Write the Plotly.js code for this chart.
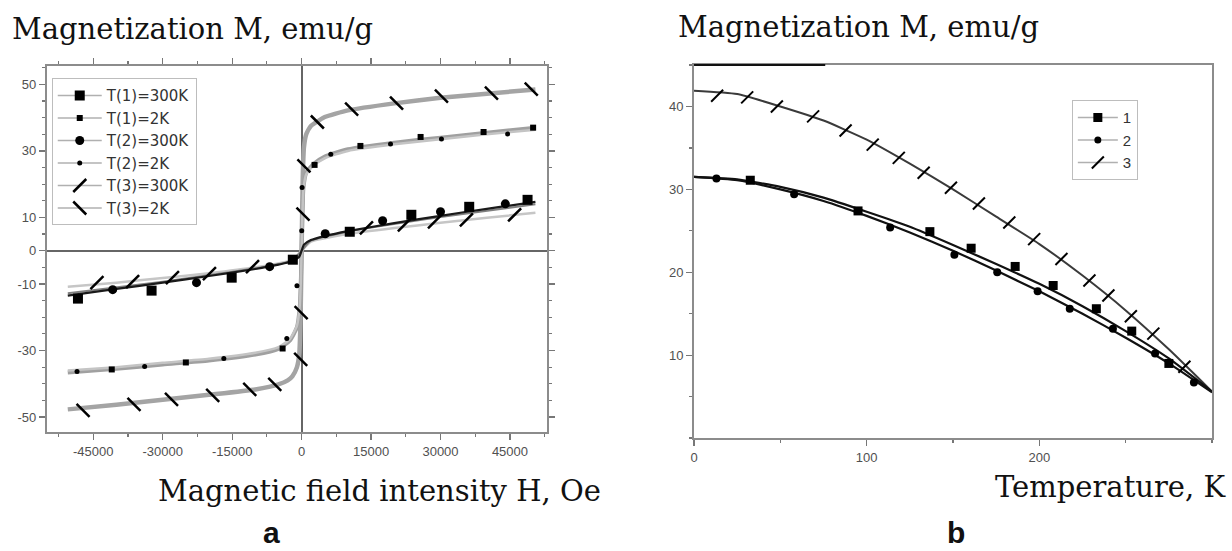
<!DOCTYPE html>
<html>
<head>
<meta charset="utf-8">
<script src="https://cdn.plot.ly/plotly-3.0.1.min.js"></script>
<style>
html,body{margin:0;padding:0;background:#fff;}
#chart{width:1232px;height:551px;}
</style>
</head>
<body>
<div id="chart"></div>
<script>
// ---------- Panel a : M(H) ----------
// fitted curves
const H_T1_300K_line = [-50500,-40000,-30000,-20000,-10000,-5000,-2000,-500,0,500,2000,5000,10000,20000,30000,40000,50500];
const M_T1_300K_line = [-13.5,-11.5,-9.6,-7.6,-5.5,-4.2,-3.2,-1.8,0,1.8,3.2,4.4,5.9,8.3,10.5,12.6,14.7];
const H_T2_300K_line = [-50500,-30000,-10000,-2000,0,2000,10000,30000,50500];
const M_T2_300K_line = [-12.8,-9.3,-5.3,-3.0,0,3.0,5.7,10.1,14.0];
const H_T3_300K_line = [-50500,-40000,-30000,-20000,-10000,-2000,0,2000,10000,20000,30000,40000,50500];
const M_T3_300K_line = [-10.8,-9.6,-8.2,-6.8,-5.0,-2.8,0,2.7,5.0,6.8,8.4,9.9,11.4];
const H_T1_2K_line = [-50500,-40000,-30000,-20000,-10000,-5000,-2500,-1000,-400,-150,0,150,400,1000,2500,5000,10000,20000,30000,40000,50500];
const M_T1_2K_line = [-36.6,-35.5,-34.2,-33.0,-31.2,-29.5,-27.0,-23.0,-17.0,-9.0,0,10.0,19.0,23.5,26.0,28.3,30.5,32.5,34.0,35.5,37.0];
const H_T2_2K_line = H_T1_2K_line;
const M_T2_2K_line = [-36.0,-35.0,-33.7,-32.5,-30.7,-29.0,-26.5,-22.5,-16.5,-8.5,0,9.5,18.5,23.0,25.5,27.8,30.0,32.0,33.5,35.0,36.4];
const H_T3_2K_line = [-50500,-40000,-30000,-20000,-10000,-5000,-3000,-2000,-1000,-500,-250,0,250,500,1000,2000,3000,5000,10000,20000,30000,40000,50500];
const M_T3_2K_line = [-47.7,-46.3,-44.8,-43.3,-41.7,-40.2,-39.0,-37.8,-35.0,-31.0,-22.0,0,22.0,31.0,35.0,37.5,38.5,40.2,42.2,44.3,46.0,47.2,48.5];

// measured points (markers)
const H_T1_300K = [-48300,-32400,-15100,-1900,10400,23700,36200,48800];
const M_T1_300K = [-14.4,-12.0,-8.1,-2.7,5.7,10.8,13.2,15.3];
const H_T1_2K = [-41000,-25000,-4100,2800,12700,25700,39300,50000];
const M_T1_2K = [-35.7,-33.6,-29.4,25.8,31.5,34.2,35.7,37.0];
const H_T2_300K = [-40800,-22700,-6900,5100,17500,30000,44000];
const M_T2_300K = [-11.7,-9.6,-4.8,5.1,9.0,11.7,14.1];
const H_T2_2K = [-48500,-33900,-16800,-3200,-1000,20,100,6300,19200,30200,44500];
const M_T2_2K = [-36.3,-34.8,-32.4,-26.4,-10.5,6.0,19.0,29.0,32.1,33.6,35.1];
const H_T3_300K = [-44200,-36500,-27900,-19900,-10600,14000,22200,28700,35600,46000];
const M_T3_300K = [-9.6,-9.3,-8.1,-6.9,-4.8,6.9,7.8,8.7,9.3,10.8];
const H_T3_2K = [-47200,-36200,-28100,-19200,-11200,-5800,-200,-100,300,500,3400,10800,20500,30200,41000,49600];
const M_T3_2K = [-48.0,-46.2,-44.7,-43.5,-41.7,-40.2,-32.7,-18.6,11.0,25.5,38.7,42.6,44.4,46.5,47.4,48.6];

const legendA = ["T(1)=300K","T(1)=2K","T(2)=300K","T(2)=2K","T(3)=300K","T(3)=2K"];
const xTicksA = [-45000,-30000,-15000,0,15000,30000,45000];
const yTicksA = [-50,-30,-10,0,10,30,50];

// ---------- Panel b : M(T) ----------
const T_line = [0,25,50,75,100,125,150,175,200,225,250,275,300];
const M1_line = [31.5,31.2,30.3,29.0,27.3,25.5,23.3,21.0,18.6,15.9,12.9,9.6,5.6];
const M2_line = [31.5,31.1,30.0,28.6,26.8,24.8,22.6,20.2,17.7,15.0,12.1,9.0,5.5];
const M3_line = [41.9,41.5,40.0,38.3,36.0,33.1,30.0,26.7,23.4,19.6,15.4,10.7,5.6];
const T1 = [32.6,95,136.6,160.5,186,208,233,253.5,275];
const M1 = [31.1,27.4,24.9,22.9,20.7,18.4,15.6,12.9,9.0];
const T2 = [13,58,113.6,150.8,175.6,199,217.6,242.6,267,289.5];
const M2 = [31.3,29.4,25.4,22.1,20.0,17.7,15.6,13.2,10.2,6.7];
const T3 = [13.4,30.8,48,69,87.8,103.5,118.6,133,148.8,165,182.6,197,212.8,229,240,253,266,284];
const M3 = [41.3,41.1,40.0,38.8,37.1,35.4,33.8,32.0,30.2,28.3,26.0,24.0,21.6,19.0,17.2,14.7,12.6,8.6];
const legendB = ["1","2","3"];
const xTicksB = [0,100,200];
const yTicksB = [10,20,30,40];

// ---------- styles ----------
const MK = {
  sqBig:{symbol:'square',size:10,color:'#000'},
  sqSmall:{symbol:'square',size:6,color:'#000'},
  cirBig:{symbol:'circle',size:9,color:'#000'},
  cirSmall:{symbol:'circle',size:5,color:'#000'},
  slash:{symbol:'line-ne',size:13,color:'#000',line:{width:2.5,color:'#000'}},
  bslash:{symbol:'line-nw',size:13,color:'#000',line:{width:2.5,color:'#000'}}
};
const traces = [];
function line(x,y,color,width,xa,ya){
  traces.push({x:x,y:y,mode:'lines',xaxis:xa,yaxis:ya,showlegend:false,hoverinfo:'skip',
    line:{color:color,width:width,shape:'spline',smoothing:0.5}});
}
function pts(x,y,marker,xa,ya){
  traces.push({x:x,y:y,mode:'markers',xaxis:xa,yaxis:ya,showlegend:false,marker:marker});
}
function leg(name,marker,lg){
  traces.push({x:[null],y:[null],mode:'lines+markers',name:name,legend:lg,
    xaxis:lg==='legend'?'x':'x2',yaxis:lg==='legend'?'y':'y2',
    line:{color:'#b0b0b0',width:1.5},marker:marker});
}

// panel a lines
line(H_T3_2K_line,M_T3_2K_line,'#a4a4a4',4.5,'x','y');
line(H_T1_2K_line,M_T1_2K_line,'#a0a0a0',4,'x','y');
line(H_T2_2K_line,M_T2_2K_line,'#c4c4c4',2.5,'x','y');
line(H_T3_300K_line,M_T3_300K_line,'#c6c6c6',2.5,'x','y');
line(H_T2_300K_line,M_T2_300K_line,'#808080',2,'x','y');
line(H_T1_300K_line,M_T1_300K_line,'#1a1a1a',2.2,'x','y');
// panel a markers
pts(H_T1_300K,M_T1_300K,MK.sqBig,'x','y');
pts(H_T1_2K,M_T1_2K,MK.sqSmall,'x','y');
pts(H_T2_300K,M_T2_300K,MK.cirBig,'x','y');
pts(H_T2_2K,M_T2_2K,MK.cirSmall,'x','y');
pts(H_T3_300K,M_T3_300K,MK.slash,'x','y');
pts(H_T3_2K,M_T3_2K,MK.bslash,'x','y');
// panel a legend
leg(legendA[0],MK.sqBig,'legend');
leg(legendA[1],MK.sqSmall,'legend');
leg(legendA[2],MK.cirBig,'legend');
leg(legendA[3],MK.cirSmall,'legend');
leg(legendA[4],MK.slash,'legend');
leg(legendA[5],MK.bslash,'legend');

// panel b
line(T_line,M3_line,'#3a3a3a',2,'x2','y2');
line(T_line,M1_line,'#111',2.2,'x2','y2');
line(T_line,M2_line,'#111',2.2,'x2','y2');
pts(T1,M1,{symbol:'square',size:9,color:'#000'},'x2','y2');
pts(T2,M2,{symbol:'circle',size:8,color:'#000'},'x2','y2');
pts(T3,M3,{symbol:'line-ne',size:12,color:'#000',line:{width:2,color:'#000'}},'x2','y2');
leg(legendB[0],{symbol:'square',size:9,color:'#000'},'legend2');
leg(legendB[1],{symbol:'circle',size:7,color:'#000'},'legend2');
leg(legendB[2],{symbol:'line-ne',size:12,color:'#000',line:{width:2,color:'#000'}},'legend2');

const tickFont = {family:'Liberation Sans, Arial, sans-serif',size:13,color:'#505050'};
const axisBase = {showline:true,linecolor:'#8c8c8c',linewidth:2,showgrid:false,ticks:'outside',
  ticklen:6,tickwidth:1.2,tickcolor:'#777',tickfont:tickFont,tickmode:'array',fixedrange:true};
const serif = {family:'DejaVu Serif, serif',size:29,color:'#111'};
const letterFont = {family:'Liberation Sans, Arial, sans-serif',size:30,color:'#111'};

const layout = {
  width:1232,height:551,margin:{l:0,r:0,t:0,b:0},
  paper_bgcolor:'#fff',plot_bgcolor:'#fff',
  xaxis:Object.assign({},axisBase,{domain:[0.0381,0.444],anchor:'y',range:[-55000,53000],
    tickvals:xTicksA,ticktext:xTicksA.map(String),mirror:'ticks',
    zeroline:true,zerolinecolor:'#666',zerolinewidth:2,
    minor:{tickmode:'linear',tick0:0,dtick:7500,ticks:'outside',ticklen:3,tickcolor:'#777'}}),
  yaxis:Object.assign({},axisBase,{domain:[0.216,0.880],anchor:'x',range:[-54.5,55.5],
    tickvals:yTicksA,ticktext:yTicksA.map(String),mirror:'ticks',
    zeroline:true,zerolinecolor:'#666',zerolinewidth:2,
    minor:{tickmode:'linear',tick0:0,dtick:5,ticks:'outside',ticklen:3,tickcolor:'#777'}}),
  xaxis2:Object.assign({},axisBase,{domain:[0.5633,0.9838],anchor:'y2',range:[0,300],
    tickvals:xTicksB,ticktext:xTicksB.map(String),mirror:true,zeroline:false,
    minor:{tickmode:'linear',tick0:0,dtick:50,ticks:'outside',ticklen:3,tickcolor:'#777'}}),
  yaxis2:Object.assign({},axisBase,{domain:[0.205,0.882],anchor:'x2',range:[0,45],
    tickvals:yTicksB,ticktext:yTicksB.map(String),mirror:true,zeroline:false,
    minor:{tickmode:'linear',tick0:0,dtick:5,ticks:'outside',ticklen:3,tickcolor:'#777'}}),
  xaxis3:{overlaying:'x2',anchor:'y2',side:'top',range:[0,300],showline:false,showgrid:false,zeroline:false,
    tickmode:'array',tickvals:xTicksB,showticklabels:false,ticks:'inside',ticklen:6,tickcolor:'#777',
    minor:{tickmode:'linear',tick0:0,dtick:50,ticks:'inside',ticklen:3,tickcolor:'#777'},fixedrange:true},
  yaxis3:{overlaying:'y2',anchor:'x2',side:'right',range:[0,45],showline:false,showgrid:false,zeroline:false,
    tickmode:'array',tickvals:yTicksB,showticklabels:false,ticks:'inside',ticklen:6,tickcolor:'#777',
    minor:{tickmode:'linear',tick0:0,dtick:5,ticks:'inside',ticklen:3,tickcolor:'#777'},fixedrange:true},
  legend:{x:0.042,y:0.858,xanchor:'left',yanchor:'top',bgcolor:'rgba(255,255,255,0)',
    bordercolor:'#bdbdbd',borderwidth:1,itemwidth:44,tracegroupgap:0,
    font:{family:'DejaVu Sans, sans-serif',size:15,color:'#333'}},
  legend2:{x:0.870,y:0.818,xanchor:'left',yanchor:'top',bgcolor:'rgba(255,255,255,0)',
    bordercolor:'#bdbdbd',borderwidth:1,itemwidth:40,
    font:{family:'Liberation Sans, Arial, sans-serif',size:15,color:'#333'}},
  shapes:[{type:'line',xref:'x2',yref:'y2 domain',x0:0,x1:76,y0:1,y1:1,line:{color:'#111',width:2}}],
  annotations:[
    {text:'Magnetization M, emu/g',xref:'paper',yref:'paper',x:0.0085,y:0.947,xanchor:'left',yanchor:'middle',showarrow:false,font:serif},
    {text:'Magnetization M, emu/g',xref:'paper',yref:'paper',x:0.549,y:0.951,xanchor:'left',yanchor:'middle',showarrow:false,font:serif},
    {text:'Magnetic field intensity H, Oe',xref:'paper',yref:'paper',x:0.127,y:0.108,xanchor:'left',yanchor:'middle',showarrow:false,font:serif},
    {text:'Temperature, K',xref:'paper',yref:'paper',x:0.997,y:0.116,xanchor:'right',yanchor:'middle',showarrow:false,font:serif},
    {text:'<b>a</b>',xref:'paper',yref:'paper',x:0.22,y:0.0,xanchor:'center',yanchor:'bottom',showarrow:false,font:letterFont},
    {text:'<b>b</b>',xref:'paper',yref:'paper',x:0.776,y:0.0,xanchor:'center',yanchor:'bottom',showarrow:false,font:letterFont}
  ]
};
Plotly.newPlot('chart',traces,layout,{displayModeBar:false,staticPlot:true});
</script>
</body>
</html>
